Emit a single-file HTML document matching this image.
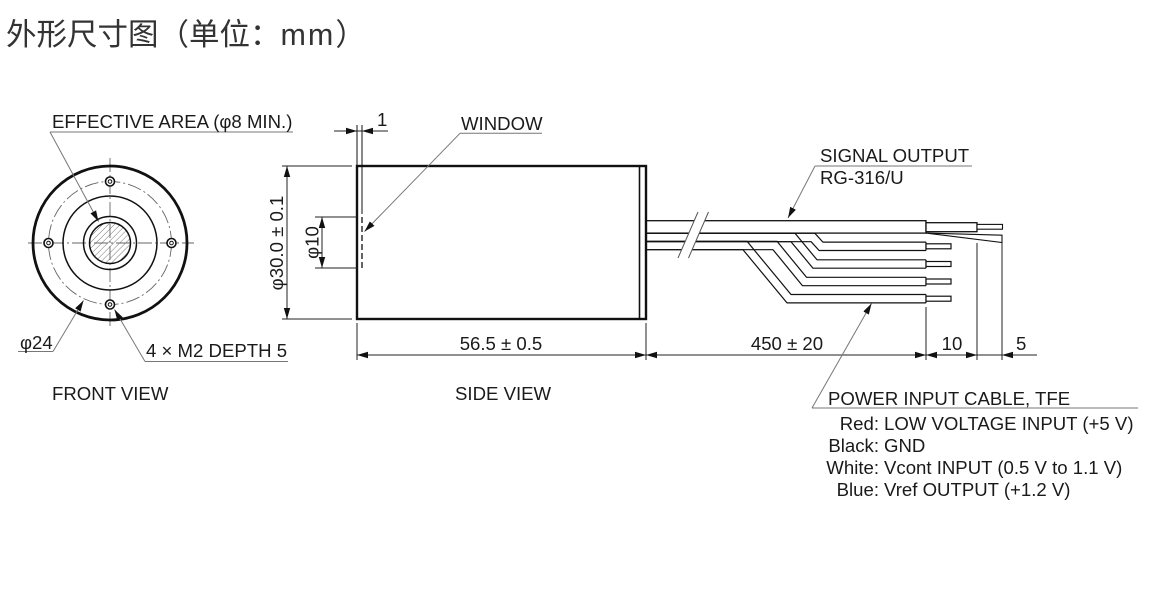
<!DOCTYPE html>
<html><head><meta charset="utf-8">
<style>
html,body{margin:0;padding:0;background:#fff;}
svg{display:block;}
text{font-family:"Liberation Sans",Arial,sans-serif;fill:#1a1a1a;}
</style></head>
<body>
<svg width="1152" height="595" viewBox="0 0 1152 595" xmlns="http://www.w3.org/2000/svg">
<defs>
<marker id="la" markerUnits="userSpaceOnUse" markerWidth="12" markerHeight="8" refX="11" refY="3.2" orient="auto"><path d="M0,0 L11,3.2 L0,6.4 z" fill="#111"/></marker>
<pattern id="h" patternUnits="userSpaceOnUse" width="4.2" height="4.2" patternTransform="rotate(45)"><line x1="0" y1="0" x2="0" y2="4.2" stroke="#555" stroke-width="0.8"/></pattern>
</defs>
<rect width="1152" height="595" fill="#fff"/>

<!-- Title -->
<text x="6" y="45" font-size="30.5" style="fill:#333;font-family:'Liberation Sans','Noto Sans CJK SC',sans-serif;">外形尺寸图（单位：<tspan letter-spacing="2">mm</tspan>）</text>

<!-- ================= FRONT VIEW ================= -->
<g fill="none" stroke="#666" stroke-width="0.9" stroke-dasharray="14 3 2 3">
<line x1="28" y1="243" x2="194" y2="243"/>
<line x1="110" y1="158" x2="110" y2="326"/>
<circle cx="110" cy="243" r="61.5"/>
</g>
<g fill="none" stroke="#111">
<circle cx="110" cy="243" r="77" stroke-width="2.8"/>
<circle cx="110" cy="243" r="47" stroke-width="1.5"/>
<circle cx="110" cy="243" r="26.5" stroke-width="1.5"/>
<circle cx="110" cy="243" r="20.5" fill="url(#h)" stroke-width="1.5"/>
<g stroke-width="1.6" fill="#fff">
<circle cx="110" cy="181.5" r="4.5"/><circle cx="110" cy="304.5" r="4.5"/>
<circle cx="48.5" cy="243" r="4.5"/><circle cx="171.5" cy="243" r="4.5"/>
</g>
<g stroke-width="1">
<circle cx="110" cy="181.5" r="1.8"/><circle cx="110" cy="304.5" r="1.8"/>
<circle cx="48.5" cy="243" r="1.8"/><circle cx="171.5" cy="243" r="1.8"/>
</g>
</g>
<!-- front leaders -->
<g fill="none" stroke="#777" stroke-width="1">
<line x1="50" y1="132" x2="293" y2="132"/>
<line x1="50" y1="132" x2="98.5" y2="221.5" marker-end="url(#la)"/>
<line x1="18" y1="351.5" x2="53" y2="351.5"/>
<line x1="53" y1="351.5" x2="83.5" y2="300.5" marker-end="url(#la)"/>
<line x1="145" y1="361.5" x2="288" y2="361.5"/>
<line x1="145" y1="361.5" x2="114.5" y2="309.5" marker-end="url(#la)"/>
</g>
<text x="52" y="128" font-size="18.6">EFFECTIVE AREA (φ8 MIN.)</text>
<text x="20" y="349" font-size="18.6">φ24</text>
<text x="146" y="357" font-size="18.6">4 × M2 DEPTH 5</text>
<text x="52" y="400" font-size="18.6">FRONT VIEW</text>

<!-- ================= SIDE VIEW ================= -->
<g fill="none" stroke="#111" stroke-width="1.2" stroke-linejoin="round">
<path d="M646,241.3 H747 L791,294.5 H926"/>
<path d="M646,249.7 H743 L787,302.9 H926"/>
<path d="M646,241.3 H777 L806.5,277.3 H926"/>
<path d="M646,249.7 H773 L802.5,285.7 H926"/>
<path d="M646,233.3 H795 L817,259.8 H926"/>
<path d="M646,241.7 H791 L813,268.2 H926"/>
<path d="M646,233.3 H814.9 L822.9,242.1 H926"/>
<path d="M646,241.7 H811.1 L819.1,250.5 H926"/>
</g>
<g stroke="#111" stroke-width="1.2" fill="#fff">
<line x1="926" y1="242.1" x2="926" y2="250.5"/>
<line x1="926" y1="259.8" x2="926" y2="268.2"/>
<line x1="926" y1="277.3" x2="926" y2="285.7"/>
<line x1="926" y1="294.5" x2="926" y2="302.9"/>
<rect x="926" y="243.8" width="25" height="5"/>
<rect x="926" y="261.5" width="25" height="5"/>
<rect x="926" y="279" width="25" height="5"/>
<rect x="926" y="296.2" width="25" height="5"/>
</g>
<g stroke="#111" stroke-width="1.3" fill="#fff">
<rect x="646" y="220.7" width="280" height="12.4"/>
<path d="M926,233.1 L1002,235.2 L1002,242.5 Z" stroke-width="1.1" stroke-linejoin="miter"/>
<rect x="926" y="222.7" width="51" height="9"/>
<rect x="977" y="224.4" width="25.5" height="4.8" stroke-width="1.1"/>
</g>
<polygon points="698,212 708.5,212 688.5,258 678,258" fill="#fff"/>
<g stroke="#555" stroke-width="1">
<line x1="698" y1="212" x2="678" y2="258"/>
<line x1="708.5" y1="212" x2="688.5" y2="258"/>
</g>

<rect x="357" y="166" width="289" height="153" fill="none" stroke="#111" stroke-width="2.4"/>
<line x1="639.5" y1="166" x2="639.5" y2="319" stroke="#111" stroke-width="1.6"/>
<g stroke="#111" stroke-width="1" fill="none">
<line x1="357" y1="125" x2="357" y2="166"/>
<line x1="362" y1="125" x2="362" y2="214"/>
<line x1="362" y1="217" x2="362" y2="268" stroke-dasharray="6 3" stroke-width="1.3"/>
</g>
<g stroke="#222" stroke-width="1" fill="none">
<line x1="334" y1="131" x2="388" y2="131"/>
<line x1="282" y1="166" x2="352" y2="166"/>
<line x1="282" y1="319" x2="352" y2="319"/>
<line x1="287" y1="166" x2="287" y2="319"/>
<line x1="315" y1="217" x2="357" y2="217"/>
<line x1="315" y1="268" x2="357" y2="268"/>
<line x1="322" y1="217" x2="322" y2="268"/>
<line x1="357" y1="323" x2="357" y2="360"/>
<line x1="646" y1="323" x2="646" y2="360"/>
<line x1="926" y1="307" x2="926" y2="360"/>
<line x1="977" y1="243" x2="977" y2="360"/>
<line x1="1002" y1="243" x2="1002" y2="360"/>
<line x1="357" y1="355" x2="1037" y2="355"/>
</g>
<g fill="#111">
<polygon points="357,131 346,127.8 346,134.2"/>
<polygon points="362,131 373,127.8 373,134.2"/>
<polygon points="287,166 283.8,177 290.2,177"/>
<polygon points="287,319 283.8,308 290.2,308"/>
<polygon points="322,217 318.8,228 325.2,228"/>
<polygon points="322,268 318.8,257 325.2,257"/>
<polygon points="357,355 368,351.8 368,358.2"/>
<polygon points="646,355 635,351.8 635,358.2"/>
<polygon points="646,355 657,351.8 657,358.2"/>
<polygon points="926,355 915,351.8 915,358.2"/>
<polygon points="926,355 937,351.8 937,358.2"/>
<polygon points="977,355 966,351.8 966,358.2"/>
<polygon points="1002,355 1013,351.8 1013,358.2"/>
</g>
<g fill="none" stroke="#777" stroke-width="1">
<line x1="460" y1="133.3" x2="542" y2="133.3"/>
<line x1="460" y1="133.3" x2="364.5" y2="231.5" marker-end="url(#la)"/>
<line x1="815" y1="166" x2="972" y2="166"/>
<line x1="815" y1="166" x2="788" y2="218" marker-end="url(#la)"/>
<line x1="812" y1="408" x2="1138" y2="408"/>
<line x1="812" y1="408" x2="871.5" y2="303.5" marker-end="url(#la)"/>
</g>

<text x="377" y="126" font-size="18.6">1</text>
<text x="461" y="130" font-size="18.6">WINDOW</text>
<text transform="translate(283,243) rotate(-90)" text-anchor="middle" font-size="18.6">φ30.0 ± 0.1</text>
<text transform="translate(318.5,242.5) rotate(-90)" text-anchor="middle" font-size="18.6">φ10</text>
<text x="501" y="350" text-anchor="middle" font-size="18.6">56.5 ± 0.5</text>
<text x="787" y="350" text-anchor="middle" font-size="18.6">450 ± 20</text>
<text x="952" y="350" text-anchor="middle" font-size="18.6">10</text>
<text x="1016" y="350" font-size="18.6">5</text>
<text x="455" y="400" font-size="18.6">SIDE VIEW</text>
<text x="820" y="162" font-size="18.6">SIGNAL OUTPUT</text>
<text x="820" y="184" font-size="18.6">RG-316/U</text>
<text x="828" y="405" font-size="18.6">POWER INPUT CABLE, TFE</text>
<g font-size="18.6">
<text x="879" y="430" text-anchor="end">Red:</text>
<text x="884" y="430">LOW VOLTAGE INPUT (+5 V)</text>
<text x="879" y="452" text-anchor="end">Black:</text>
<text x="884" y="452">GND</text>
<text x="879" y="474" text-anchor="end">White:</text>
<text x="884" y="474">Vcont INPUT (0.5 V to 1.1 V)</text>
<text x="879" y="496" text-anchor="end">Blue:</text>
<text x="884" y="496">Vref OUTPUT (+1.2 V)</text>
</g>
</svg>
</body></html>
